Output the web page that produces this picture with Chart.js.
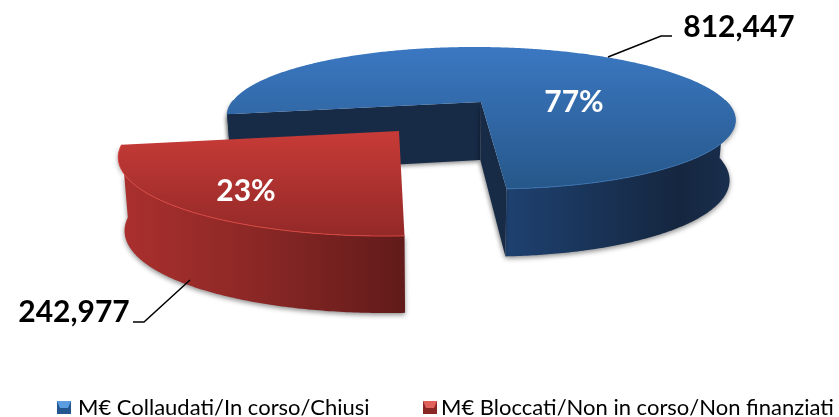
<!DOCTYPE html>
<html>
<head>
<meta charset="utf-8">
<title>Pie</title>
<script src="https://cdn.jsdelivr.net/npm/chart.js@4"></script>
<style>
  html, body { margin: 0; padding: 0; background: #fff; overflow: hidden; }
  #wrap { width: 839px; height: 417px; }
</style>
</head>
<body>
<div id="wrap"><canvas id="pie" width="839" height="417"></canvas></div>
<script>
const categories = ['M€ Collaudati/In corso/Chiusi', 'M€ Bloccati/Non in corso/Non finanziati'];
const values = [812447, 242977];
const valueLabels = ['812,447', '242,977'];
const percentLabels = ['77%', '23%'];

// how each slice is projected on the page (tilt + perspective), tuned by eye
const sliceViews = [
    {
        apexX: 481, apexY: 102, vanishX: 448, scaleRight: 246, scaleLeft: 249, scaleY: 67.4, persp: 0.225,
        depth: 58, depthPow: 0.6, cutFaces: true,
        topFrom: '#3b78c2', topTo: '#265789', topY0: 47, topY1: 189,
        sideStops: [[507, '#1e4170'], [680, '#15263f'], [737, '#1a3050']],
        inner: '#172b47', edge: '#3a70ad',
        percentX: 574, percentY: 112,
        valueX: 739, valueY: 37, leader: [[608, 57], [661, 36], [672, 36]],
        legendBoxX: 57, legendTextX: 78, light: '#5c9ce0', dark: '#24568f'
    },
    {
        apexX: 399, apexY: 131, vanishX: 432, scaleRight: 266, scaleLeft: 266, scaleY: 75, persp: 0.286,
        depth: 72, depthPow: 0.2, cutFaces: false,
        topFrom: '#c73b37', topTo: '#932928', topY0: 131, topY1: 236,
        sideStops: [[118, '#ab302e'], [250, '#8c2826'], [405, '#611b1a']],
        inner: '#7a2220', edge: '#d8453f',
        percentX: 246, percentY: 201,
        valueX: 74, valueY: 322, leader: [[190, 280], [144, 322], [133, 322]],
        legendBoxX: 423, legendTextX: 441, light: '#e0605a', dark: '#8a2624'
    }
];

function project(view, theta, ground) {
    const u = Math.cos(theta);
    const v = Math.sin(theta);
    const s = 1 / (1 - view.persp * v);
    const scaleX = u < 0 ? view.scaleLeft : view.scaleRight;
    let x = view.apexX + scaleX * u * s + (view.apexX - view.vanishX) * (s - 1);
    let y = view.apexY + view.scaleY * v * s;
    if (ground) {
        x = view.vanishX + (x - view.vanishX) * 0.98;
        y += view.depth * Math.pow(s, view.depthPow);
    }
    return [x, y];
}

function apexPoint(view, ground) {
    if (!ground) return [view.apexX, view.apexY];
    return [view.vanishX + (view.apexX - view.vanishX) * 0.98, view.apexY + view.depth];
}

function arcAngles(start, end) {
    const out = [];
    const steps = Math.ceil((end - start) / 0.01);
    for (let i = 0; i <= steps; i++) out.push(start + (end - start) * i / steps);
    return out;
}

function tracePoints(ctx, pts) {
    pts.forEach(p => ctx.lineTo(p[0], p[1]));
}

function drawSlice(ctx, arc, view) {
    const angles = arcAngles(arc.startAngle, arc.endAngle);
    const topGrad = ctx.createLinearGradient(0, view.topY0, 0, view.topY1);
    topGrad.addColorStop(0, view.topFrom);
    topGrad.addColorStop(1, view.topTo);

    const a = view.sideStops[0][0];
    const b = view.sideStops[view.sideStops.length - 1][0];
    const sideGrad = ctx.createLinearGradient(a, 0, b, 0);
    view.sideStops.forEach(st => sideGrad.addColorStop((st[0] - a) / (b - a), st[1]));

    // outer wall, only the runs that face the viewer
    const runs = [];
    let run = [];
    angles.forEach(t => {
        if (Math.sin(t) >= -0.03) {
            run.push(t);
        } else if (run.length) {
            runs.push(run);
            run = [];
        }
    });
    if (run.length) runs.push(run);

    runs.forEach(r => {
        ctx.save();
        ctx.shadowColor = 'rgba(0,0,0,0.45)';
        ctx.shadowBlur = 5;
        ctx.shadowOffsetY = 2;
        ctx.beginPath();
        tracePoints(ctx, r.map(t => project(view, t, false)));
        tracePoints(ctx, r.slice().reverse().map(t => project(view, t, true)));
        ctx.closePath();
        ctx.fillStyle = sideGrad;
        ctx.fill();
        ctx.restore();
    });

    // cut faces go over the wall stub on the far left (the red slice hides its own)
    if (view.cutFaces) {
        [arc.startAngle, arc.endAngle].forEach(th => {
            ctx.save();
            ctx.shadowColor = 'rgba(0,0,0,0.45)';
            ctx.shadowBlur = 4;
            ctx.shadowOffsetX = -1;
            ctx.shadowOffsetY = 2;
            ctx.beginPath();
            tracePoints(ctx, [apexPoint(view, false), project(view, th, false), project(view, th, true), apexPoint(view, true)]);
            ctx.closePath();
            ctx.fillStyle = view.inner;
            ctx.fill();
            ctx.restore();
        });
    }

    // top face
    ctx.beginPath();
    tracePoints(ctx, [apexPoint(view, false)].concat(angles.map(t => project(view, t, false))));
    ctx.closePath();
    ctx.fillStyle = topGrad;
    ctx.fill();

    // light rim along the front edge
    runs.forEach(r => {
        ctx.beginPath();
        tracePoints(ctx, r.map(t => project(view, t, false)));
        ctx.strokeStyle = view.edge;
        ctx.lineWidth = 1;
        ctx.stroke();
    });
}

function drawLabels(ctx, view, i) {
    ctx.beginPath();
    tracePoints(ctx, view.leader);
    ctx.strokeStyle = '#000';
    ctx.lineWidth = 1.5;
    ctx.stroke();

    ctx.textAlign = 'center';
    ctx.textBaseline = 'alphabetic';
    ctx.font = 'bold 30px Lato';
    ctx.fillStyle = '#fff';
    ctx.fillText(percentLabels[i], view.percentX, view.percentY);
    ctx.fillStyle = '#000';
    ctx.fillText(valueLabels[i], view.valueX, view.valueY);
}

function drawLegendItem(ctx, view, i) {
    const x = view.legendBoxX;
    ctx.fillStyle = view.dark;
    ctx.fillRect(x, 401, 14, 13);
    // bevel look of the original swatch
    ctx.beginPath();
    tracePoints(ctx, [[x, 401], [x + 14, 401], [x + 11, 408], [x + 3, 408]]);
    ctx.closePath();
    ctx.fillStyle = view.light;
    ctx.fill();

    ctx.fillStyle = '#000';
    ctx.textAlign = 'left';
    ctx.textBaseline = 'alphabetic';
    ctx.font = '22px Lato';
    ctx.fillText(categories[i], view.legendTextX, 415);
}

const pie3d = {
    id: 'pie3d',
    beforeDatasetsDraw(chart) {
        const ctx = chart.ctx;
        const arcs = chart.getDatasetMeta(0).data;
        ctx.save();
        arcs.forEach((arc, i) => drawSlice(ctx, arc, sliceViews[i]));
        arcs.forEach((arc, i) => drawLabels(ctx, sliceViews[i], i));
        arcs.forEach((arc, i) => drawLegendItem(ctx, sliceViews[i], i));
        ctx.restore();
        return false;
    }
};

new Chart(document.getElementById('pie'), {
    type: 'pie',
    data: {
        labels: categories,
        datasets: [{
            data: values,
            backgroundColor: ['#2f6aae', '#b83431'],
            borderWidth: 0
        }]
    },
    options: {
        responsive: false,
        animation: false,
        rotation: 260,
        plugins: {
            tooltip: { enabled: false },
            legend: { display: false }
        }
    },
    plugins: [pie3d]
});
</script>
</body>
</html>
